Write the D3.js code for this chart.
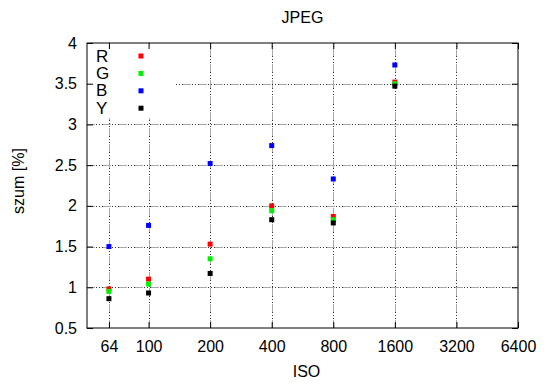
<!DOCTYPE html>
<html>
<head>
<meta charset="utf-8">
<script src="https://cdn.jsdelivr.net/npm/d3@7"></script>
<style>
  body { margin: 0; background: #fff; }
  text { font-family: "Liberation Sans", Arial, sans-serif; }
</style>
</head>
<body>
<script>
// data
const iso = [64, 100, 200, 400, 800, 1600];
const seriesR = [0.98, 1.10, 1.53, 2.00, 1.87, 3.52];
const seriesG = [0.95, 1.04, 1.35, 1.94, 1.83, 3.50];
const seriesB = [1.50, 1.76, 2.52, 2.74, 2.33, 3.73];
const seriesY = [0.86, 0.93, 1.17, 1.83, 1.79, 3.47];
const xTicks = [64, 100, 200, 400, 800, 1600, 3200, 6400];
const yTicks = [0.5, 1, 1.5, 2, 2.5, 3, 3.5, 4];

const series = [
    {name: "R", values: seriesR, color: "#ff0000"},
    {name: "G", values: seriesG, color: "#00ee00"},
    {name: "B", values: seriesB, color: "#0000ff"},
    {name: "Y", values: seriesY, color: "#000000"}
];

const width = 550, height = 389;
const margin = {top: 43, right: 32, bottom: 61, left: 87};

const svg = d3.select("body").append("svg")
    .attr("width", width)
    .attr("height", height);

const x = d3.scaleLog().domain([50, 6400]).range([margin.left, width - margin.right]);
const y = d3.scaleLinear().domain([0.5, 4]).range([height - margin.bottom, margin.top]);
const px = v => Math.round(v) + 0.5;

// grid: gray dashes alternating with black dots
const grid = svg.append("g").attr("class", "grid").attr("shape-rendering", "crispEdges");
const drawGridLine = (x1, y1, x2, y2) => {
    grid.append("line")
        .attr("x1", x1).attr("y1", y1).attr("x2", x2).attr("y2", y2)
        .attr("stroke", "#a8a8a8")
        .attr("stroke-dasharray", "8,8");
    grid.append("line")
        .attr("x1", x1).attr("y1", y1).attr("x2", x2).attr("y2", y2)
        .attr("stroke", "#333")
        .attr("stroke-dasharray", "0,9,1,2,1,2,1,0");
};
xTicks.slice(0, -1).forEach(t => drawGridLine(px(x(t)), y(0.5), px(x(t)), y(4)));
yTicks.slice(1, -1).forEach(t => drawGridLine(x(50), px(y(t)), x(6400), px(y(t))));

// legend box hides the grid behind it
const legend = svg.append("g");
legend.append("rect")
    .attr("x", x(50) + 1).attr("y", y(4) + 1)
    .attr("width", 88).attr("height", 74)
    .attr("fill", "#fff");

// axes with mirrored inner ticks
const tickLen = 6;
svg.append("g")
    .attr("transform", `translate(0,${y(0.5)})`)
    .call(d3.axisBottom(x).tickValues(xTicks).tickFormat(d3.format("d")).tickSizeInner(-tickLen).tickSizeOuter(0).tickPadding(13))
    .call(g => g.select(".domain").remove());
svg.append("g")
    .attr("transform", `translate(0,${y(4)})`)
    .call(d3.axisTop(x).tickValues(xTicks).tickFormat("").tickSizeInner(-tickLen).tickSizeOuter(0))
    .call(g => g.select(".domain").remove());
svg.append("g")
    .attr("transform", `translate(${x(50)},0)`)
    .call(d3.axisLeft(y).tickValues(yTicks).tickFormat(d3.format("")).tickSizeInner(-tickLen).tickSizeOuter(0).tickPadding(10))
    .call(g => g.select(".domain").remove());
svg.append("g")
    .attr("transform", `translate(${x(6400)},0)`)
    .call(d3.axisRight(y).tickValues(yTicks).tickFormat("").tickSizeInner(-tickLen).tickSizeOuter(0))
    .call(g => g.select(".domain").remove());

svg.selectAll(".tick text")
    .attr("font-size", 16)
    .attr("font-family", "Liberation Sans, Arial, sans-serif")
    .attr("fill", "#000");

svg.append("rect")
    .attr("x", x(50)).attr("y", y(4))
    .attr("width", x(6400) - x(50)).attr("height", y(0.5) - y(4))
    .attr("fill", "none").attr("stroke", "#000");

// points
const ps = 5;
series.forEach(s => {
    svg.append("g").selectAll("rect")
        .data(s.values.map((v, i) => [iso[i], v]))
        .join("rect")
        .attr("x", d => x(d[0]) - ps / 2)
        .attr("y", d => y(d[1]) - ps / 2)
        .attr("width", ps).attr("height", ps)
        .attr("fill", s.color);
});

// legend entries
series.forEach((s, i) => {
    const ly = 56 + i * 17.4;
    legend.append("text")
        .attr("x", 96).attr("y", ly + 5.5)
        .attr("font-size", 17)
        .text(s.name);
    legend.append("rect")
        .attr("x", 141 - ps / 2).attr("y", ly - ps / 2)
        .attr("width", ps).attr("height", ps)
        .attr("fill", s.color);
});

// titles
svg.append("text")
    .attr("x", (x(50) + x(6400)) / 2).attr("y", 23)
    .attr("text-anchor", "middle").attr("font-size", 16)
    .text("JPEG");
svg.append("text")
    .attr("x", (x(50) + x(6400)) / 2 + 4).attr("y", 377)
    .attr("text-anchor", "middle").attr("font-size", 16)
    .text("ISO");
svg.append("text")
    .attr("transform", `translate(24,181) rotate(-90)`)
    .attr("text-anchor", "middle").attr("font-size", 16)
    .text("szum [%]");
</script>
</body>
</html>
